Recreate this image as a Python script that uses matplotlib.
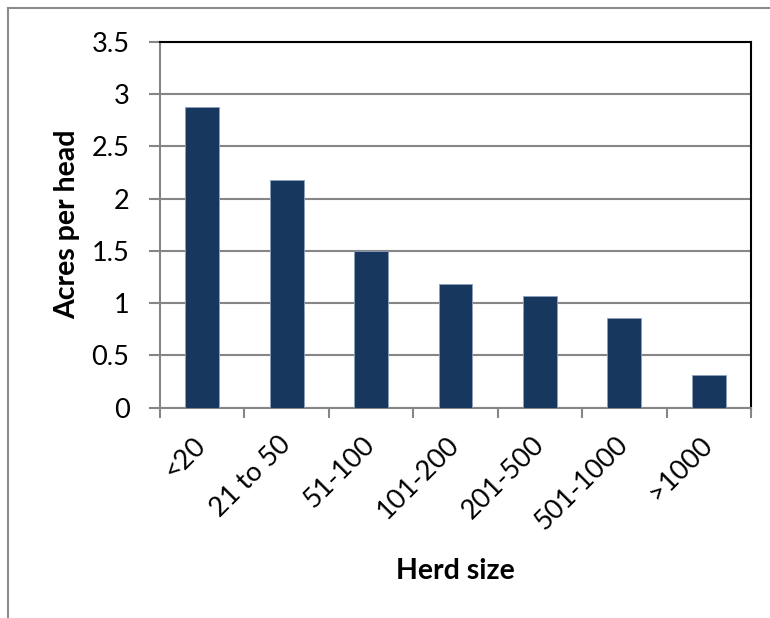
import matplotlib
matplotlib.use("Agg")
import matplotlib.pyplot as plt
from matplotlib.lines import Line2D

plt.rcParams['font.family'] = ['Lato', 'DejaVu Sans']

# Data
herd_sizes = ["<20", "21 to 50", "51-100", "101-200", "201-500", "501-1000", ">1000"]
acres_per_head = [2.88, 2.18, 1.50, 1.18, 1.07, 0.86, 0.31]
y_ticks = [0, 0.5, 1, 1.5, 2, 2.5, 3, 3.5]
y_tick_labels = ["0", "0.5", "1", "1.5", "2", "2.5", "3", "3.5"]

W, H = 770, 618
fig = plt.figure(figsize=(W / 100, H / 100), dpi=100)
fig.patch.set_facecolor("white")

# Chart-area frame (top and left edges)
frame_color = "#8c8c8c"
fig.add_artist(Line2D([8 / W, 1.0], [1 - 8 / H, 1 - 8 / H], color=frame_color, lw=1.5,
                      transform=fig.transFigure))
fig.add_artist(Line2D([8 / W, 8 / W], [0.0, 1 - 8 / H], color=frame_color, lw=1.5,
                      transform=fig.transFigure))

left, right = 160 / W, 751 / W
top, bottom = 1 - 41.7 / H, 1 - 407.7 / H
ax = fig.add_axes([left, bottom, right - left, top - bottom])

x = list(range(len(herd_sizes)))
ax.bar(x, acres_per_head, width=0.4, color="#17375E", edgecolor="#8da2bd",
       linewidth=0.6, zorder=3)

ax.set_xlim(-0.5, len(herd_sizes) - 0.5)
ax.set_ylim(0, 3.5)

grid_color = "#868686"
ax.set_yticks(y_ticks)
ax.set_yticklabels(y_tick_labels, fontsize=19.5)
ax.yaxis.grid(True, color=grid_color, lw=1.5, zorder=1)
ax.tick_params(axis="y", direction="out", length=8, width=1.5, color=grid_color, pad=14)

# Category labels at bar centres, tick marks at category boundaries
ax.set_xticks(x)
ax.set_xticklabels(herd_sizes, fontsize=19.5, rotation=45, ha="right",
                   rotation_mode="anchor", va="center")
ax.tick_params(axis="x", which="major", length=0, pad=24)
ax.set_xticks([i - 0.5 for i in range(len(herd_sizes) + 1)], minor=True)
ax.tick_params(axis="x", which="minor", direction="out", length=7, width=1.5,
               color=grid_color)

for side in ("left", "bottom"):
    ax.spines[side].set_color(grid_color)
    ax.spines[side].set_linewidth(1.5)
for side in ("top", "right"):
    ax.spines[side].set_color("black")
    ax.spines[side].set_linewidth(1.5)
ax.set_axisbelow(True)

ax.set_ylabel("Acres per head", fontsize=20.5, fontweight="bold", labelpad=8)
ax.set_xlabel("Herd size", fontsize=20.5, fontweight="bold")
ax.xaxis.set_label_coords(0.5, -0.446)
ax.xaxis.label.set_va("center")

fig.savefig("out.png", dpi=100, facecolor="white")
